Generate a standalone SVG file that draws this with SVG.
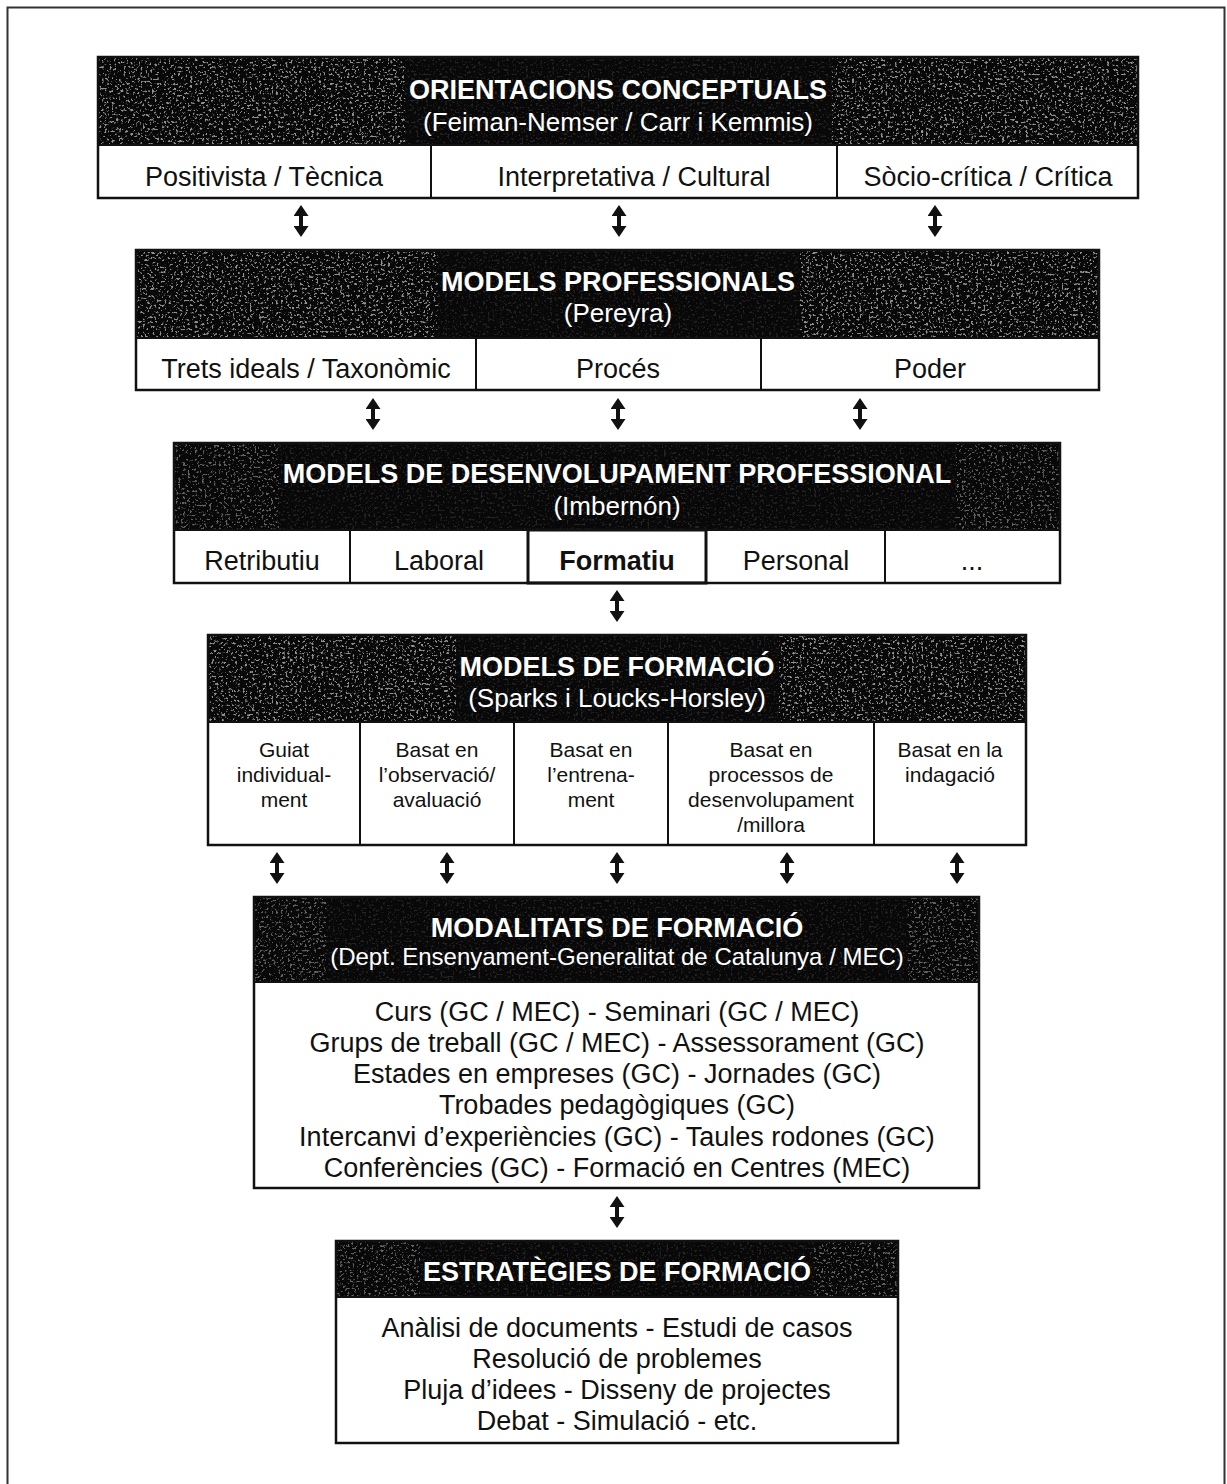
<svg xmlns="http://www.w3.org/2000/svg" width="1227" height="1484" viewBox="0 0 1227 1484">
  <defs>
    <style>
      .frame { fill: none; stroke: #333; stroke-width: 2; }
      .hdr { fill: #080808; }
      .grain { fill: #000; filter: url(#speckle); }
      .g-hi { opacity: 0.6; }
      .g-md { opacity: 0.4; }
      .g-lo { opacity: 0.12; }
      .box { fill: none; stroke: #111; stroke-width: 2.5; }
      .cell { fill: #fff; stroke: #111; stroke-width: 2; }
      .sep { stroke: #111; stroke-width: 2; }
      text { font-family: "Liberation Sans", Arial, sans-serif; text-anchor: middle; }
      .title { font-size: 27px; font-weight: bold; fill: #fff; }
      .sub { font-size: 26px; fill: #fff; }
      .sub-s { font-size: 24px; fill: #fff; }
      .lbl { font-size: 27px; fill: #111; }
      .lbl-b { font-size: 27px; fill: #111; font-weight: bold; }
      .sm { font-size: 21px; fill: #111; }
      .arrow { fill: none; stroke: #111; stroke-width: 4; marker-start: url(#head); marker-end: url(#head); }
    </style>
    <!-- clumpy light speckle for the dark header bands -->
    <filter id="speckle" x="0" y="0" width="1" height="1" filterUnits="objectBoundingBox">
      <feTurbulence type="fractalNoise" baseFrequency="0.42" numOctaves="2" seed="11" result="t"/>
      <feColorMatrix in="t" type="matrix" values="0 0 0 0 0.85  0 0 0 0 0.85  0 0 0 0 0.85  8 0 0 0 -4.6"/>
    </filter>
    <marker id="head" markerUnits="userSpaceOnUse" markerWidth="12" markerHeight="15" refX="6" refY="7.5" orient="auto-start-reverse">
      <path d="M0,0 L11,7.5 L0,15 z" fill="#111"/>
    </marker>
  </defs>

  <!-- page frame -->
  <path class="frame" d="M7.5,1484 V7.5 H1224.5 V1484"/>

  <!-- ORIENTACIONS CONCEPTUALS -->
  <g id="orientacions">
    <rect class="hdr" x="98" y="57" width="1040" height="88"/>
    <rect class="grain g-hi" x="98" y="57" width="307" height="88"/>
    <rect class="grain g-lo" x="405" y="57" width="427" height="88"/>
    <rect class="grain g-hi" x="832" y="57" width="306" height="88"/>
    <text class="title" x="618" y="99">ORIENTACIONS CONCEPTUALS</text>
    <text class="sub" x="618" y="131">(Feiman-Nemser / Carr i Kemmis)</text>
    <rect class="cell" x="98" y="145" width="1040" height="53"/>
    <line class="sep" x1="431" y1="145" x2="431" y2="198"/>
    <line class="sep" x1="837" y1="145" x2="837" y2="198"/>
    <text class="lbl" x="264" y="186">Positivista / Tècnica</text>
    <text class="lbl" x="634" y="186">Interpretativa / Cultural</text>
    <text class="lbl" x="988" y="186">Sòcio-crítica / Crítica</text>
    <rect class="box" x="98" y="57" width="1040" height="141"/>
  </g>

  <!-- MODELS PROFESSIONALS -->
  <g id="models-professionals">
    <rect class="hdr" x="136" y="250" width="963" height="88"/>
    <rect class="grain g-hi" x="136" y="250" width="302" height="88"/>
    <rect class="grain g-lo" x="438" y="250" width="362" height="88"/>
    <rect class="grain g-hi" x="800" y="250" width="299" height="88"/>
    <text class="title" x="618" y="291">MODELS PROFESSIONALS</text>
    <text class="sub" x="618" y="322">(Pereyra)</text>
    <rect class="cell" x="136" y="338" width="963" height="52"/>
    <line class="sep" x1="476" y1="338" x2="476" y2="390"/>
    <line class="sep" x1="761" y1="338" x2="761" y2="390"/>
    <text class="lbl" x="306" y="378">Trets ideals / Taxonòmic</text>
    <text class="lbl" x="618" y="378">Procés</text>
    <text class="lbl" x="930" y="378">Poder</text>
    <rect class="box" x="136" y="250" width="963" height="140"/>
  </g>

  <!-- MODELS DE DESENVOLUPAMENT PROFESSIONAL -->
  <g id="models-desenvolupament">
    <rect class="hdr" x="174" y="443" width="886" height="87"/>
    <rect class="grain g-md" x="174" y="443" width="105" height="87"/>
    <rect class="grain g-lo" x="279" y="443" width="677" height="87"/>
    <rect class="grain g-md" x="956" y="443" width="104" height="87"/>
    <text class="title" x="617" y="483">MODELS DE DESENVOLUPAMENT PROFESSIONAL</text>
    <text class="sub" x="617" y="515">(Imbernón)</text>
    <rect class="cell" x="174" y="530" width="886" height="53"/>
    <line class="sep" x1="350" y1="530" x2="350" y2="583"/>
    <line class="sep" x1="885" y1="530" x2="885" y2="583"/>
    <rect x="528" y="530" width="178" height="53" fill="none" stroke="#111" stroke-width="3"/>
    <text class="lbl" x="262" y="570">Retributiu</text>
    <text class="lbl" x="439" y="570">Laboral</text>
    <text class="lbl-b" x="617" y="570">Formatiu</text>
    <text class="lbl" x="796" y="570">Personal</text>
    <text class="lbl" x="972" y="570">...</text>
    <rect class="box" x="174" y="443" width="886" height="140"/>
  </g>

  <!-- MODELS DE FORMACIÓ -->
  <g id="models-formacio">
    <rect class="hdr" x="208" y="635" width="818" height="87"/>
    <rect class="grain g-hi" x="208" y="635" width="248" height="87"/>
    <rect class="grain g-lo" x="456" y="635" width="323" height="87"/>
    <rect class="grain g-hi" x="779" y="635" width="247" height="87"/>
    <text class="title" x="617" y="676">MODELS DE FORMACIÓ</text>
    <text class="sub" x="617" y="707">(Sparks i Loucks-Horsley)</text>
    <rect class="cell" x="208" y="722" width="818" height="123"/>
    <line class="sep" x1="360" y1="722" x2="360" y2="845"/>
    <line class="sep" x1="514" y1="722" x2="514" y2="845"/>
    <line class="sep" x1="668" y1="722" x2="668" y2="845"/>
    <line class="sep" x1="874" y1="722" x2="874" y2="845"/>
    <text class="sm" x="284" y="757">Guiat</text>
    <text class="sm" x="284" y="782">individual-</text>
    <text class="sm" x="284" y="807">ment</text>
    <text class="sm" x="437" y="757">Basat en</text>
    <text class="sm" x="437" y="782">l’observació/</text>
    <text class="sm" x="437" y="807">avaluació</text>
    <text class="sm" x="591" y="757">Basat en</text>
    <text class="sm" x="591" y="782">l’entrena-</text>
    <text class="sm" x="591" y="807">ment</text>
    <text class="sm" x="771" y="757">Basat en</text>
    <text class="sm" x="771" y="782">processos de</text>
    <text class="sm" x="771" y="807">desenvolupament</text>
    <text class="sm" x="771" y="832">/millora</text>
    <text class="sm" x="950" y="757">Basat en la</text>
    <text class="sm" x="950" y="782">indagació</text>
    <rect class="box" x="208" y="635" width="818" height="210"/>
  </g>

  <!-- MODALITATS DE FORMACIÓ -->
  <g id="modalitats">
    <rect class="hdr" x="254" y="897" width="725" height="85"/>
    <rect class="grain g-md" x="254" y="897" width="72" height="85"/>
    <rect class="grain g-lo" x="326" y="897" width="582" height="85"/>
    <rect class="grain g-md" x="908" y="897" width="71" height="85"/>
    <text class="title" x="617" y="937">MODALITATS DE FORMACIÓ</text>
    <text class="sub-s" x="617" y="965">(Dept. Ensenyament-Generalitat de Catalunya / MEC)</text>
    <rect class="cell" x="254" y="982" width="725" height="206"/>
    <text class="lbl" x="617" y="1021">Curs (GC / MEC) - Seminari (GC / MEC)</text>
    <text class="lbl" x="617" y="1052">Grups de treball (GC / MEC) - Assessorament (GC)</text>
    <text class="lbl" x="617" y="1083">Estades en empreses (GC) - Jornades (GC)</text>
    <text class="lbl" x="617" y="1114">Trobades pedagògiques (GC)</text>
    <text class="lbl" x="617" y="1146">Intercanvi d’experiències (GC) - Taules rodones (GC)</text>
    <text class="lbl" x="617" y="1177">Conferències (GC) - Formació en Centres (MEC)</text>
    <rect class="box" x="254" y="897" width="725" height="291"/>
  </g>

  <!-- ESTRATÈGIES DE FORMACIÓ -->
  <g id="estrategies">
    <rect class="hdr" x="336" y="1241" width="562" height="56"/>
    <rect class="grain g-md" x="336" y="1241" width="84" height="56"/>
    <rect class="grain g-lo" x="420" y="1241" width="394" height="56"/>
    <rect class="grain g-md" x="814" y="1241" width="84" height="56"/>
    <text class="title" x="617" y="1281">ESTRATÈGIES DE FORMACIÓ</text>
    <rect class="cell" x="336" y="1297" width="562" height="146"/>
    <text class="lbl" x="617" y="1337">Anàlisi de documents - Estudi de casos</text>
    <text class="lbl" x="617" y="1368">Resolució de problemes</text>
    <text class="lbl" x="617" y="1399">Pluja d’idees - Disseny de projectes</text>
    <text class="lbl" x="617" y="1430">Debat - Simulació - etc.</text>
    <rect class="box" x="336" y="1241" width="562" height="202"/>
  </g>

  <!-- two-way links between levels -->
  <g id="connectors">
    <path class="arrow" d="M301,210 V232"/>
    <path class="arrow" d="M619,210 V232"/>
    <path class="arrow" d="M935,210 V232"/>

    <path class="arrow" d="M373,403 V425"/>
    <path class="arrow" d="M618,403 V425"/>
    <path class="arrow" d="M860,403 V425"/>

    <path class="arrow" d="M617,595 V617"/>

    <path class="arrow" d="M277,857 V879"/>
    <path class="arrow" d="M447,857 V879"/>
    <path class="arrow" d="M617,857 V879"/>
    <path class="arrow" d="M787,857 V879"/>
    <path class="arrow" d="M957,857 V879"/>

    <path class="arrow" d="M617,1201 V1223"/>
  </g>
</svg>
